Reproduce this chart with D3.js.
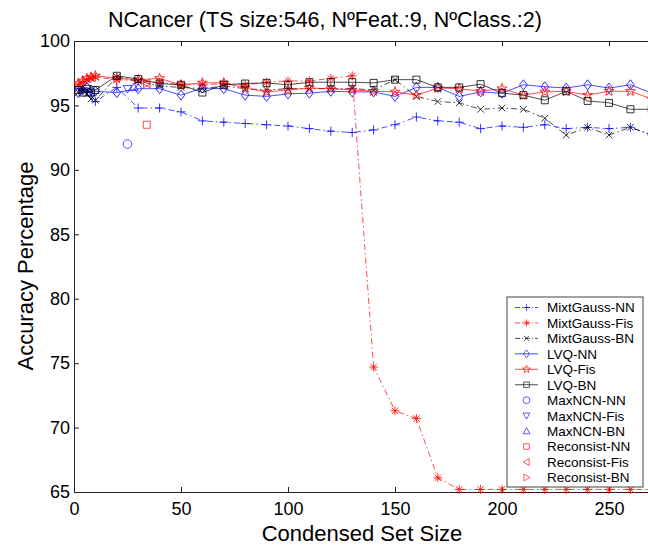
<!DOCTYPE html>
<html>
<head>
<meta charset="utf-8">
<script src="https://cdn.jsdelivr.net/npm/d3@7"></script>
<style>
    body { margin: 0; background: #fff; }
    text { font-family: Arial, "Liberation Sans", Helvetica, sans-serif; fill: #000; }
</style>
</head>
<body>
<div id="chart"></div>
<script>
// condensed set sizes (x) shared by the six curves
const setSizes = [2, 4, 6, 8, 10, 20, 30, 40, 50, 60, 70, 80, 90, 100, 110, 120, 130, 140, 150, 160, 170, 180, 190, 200, 210, 220, 230, 240, 250, 260, 270]

const mixtGaussNN  = [96.3, 96.2, 96.0, 95.8, 95.3, 96.4, 94.8, 94.8, 94.5, 93.8, 93.7, 93.6, 93.5, 93.4, 93.2, 93.0, 92.9, 93.1, 93.5, 94.1, 93.8, 93.7, 93.2, 93.4, 93.3, 93.5, 93.2, 93.3, 93.2, 93.3, 92.7]
const mixtGaussFis = [96.6, 96.8, 97.0, 97.1, 97.2, 97.0, 96.9, 96.8, 96.6, 96.6, 96.7, 96.6, 96.8, 96.9, 96.9, 97.1, 97.3, 74.7, 71.3, 70.7, 66.1, 65.2, 65.2, 65.2, 65.2, 65.2, 65.2, 65.2, 65.2, 65.2, 65.2]
const mixtGaussBN  = [96.0, 96.2, 95.9, 95.5, 95.4, 97.2, 96.9, 96.5, 96.4, 96.3, 96.5, 96.3, 96.2, 96.3, 96.3, 96.3, 96.3, 96.2, 97.0, 95.7, 95.3, 95.2, 94.7, 94.8, 94.7, 94.0, 92.7, 93.3, 92.7, 93.3, 92.7]
const lvqNN  = [96.0, 96.2, 96.4, 96.2, 96.1, 96.0, 96.3, 96.3, 95.8, 96.35, 96.3, 95.8, 95.7, 95.9, 95.95, 96.1, 96.05, 96.05, 95.7, 96.4, 96.4, 95.7, 96.05, 95.95, 96.6, 96.45, 96.35, 96.6, 96.35, 96.6, 95.95]
const lvqFis = [96.7, 96.9, 97.1, 97.2, 97.3, 97.1, 97.0, 97.1, 96.6, 96.75, 96.75, 96.35, 96.05, 96.2, 96.35, 96.3, 96.2, 96.1, 96.05, 95.8, 96.35, 96.3, 96.1, 96.3, 95.8, 96.05, 96.1, 95.8, 96.1, 96.1, 95.5]
const lvqBN  = [96.2, 96.0, 96.3, 96.0, 96.2, 97.3, 97.05, 96.7, 96.6, 96.0, 96.6, 96.7, 96.75, 96.6, 96.8, 96.8, 96.8, 96.75, 97.0, 97.0, 96.4, 96.4, 96.65, 95.95, 95.8, 95.4, 96.1, 95.35, 95.2, 94.7, 94.7]

// single-point methods: NN, Fis, BN
const maxNcnX = [25, 25, 28]
const maxNcnY = [92.0, 96.3, 96.4]
const reconsistX = [34, 34, 34]
const reconsistY = [93.5, 96.7, 96.7]

const legendNames = ["MixtGauss-NN", "MixtGauss-Fis", "MixtGauss-BN", "LVQ-NN", "LVQ-Fis", "LVQ-BN",
    "MaxNCN-NN", "MaxNCN-Fis", "MaxNCN-BN", "Reconsist-NN", "Reconsist-Fis", "Reconsist-BN"]
const xTicks = [0, 50, 100, 150, 200, 250]
const yTicks = [65, 70, 75, 80, 85, 90, 95, 100]

const W = 648, H = 546
const plot = { left: 74, top: 41, bottom: 492 }

// marker shapes, roughly like matlab ones
function marker(kind) {
    const s = 4.5
    switch (kind) {
        case "+": return `M${-s},0H${s}M0,${-s}V${s}`
        case "x": return `M-3.3,-3.3L3.3,3.3M-3.3,3.3L3.3,-3.3`
        case "*": return `M${-s},0H${s}M0,${-s}V${s}M-3.2,-3.2L3.2,3.2M-3.2,3.2L3.2,-3.2`
        case "d": return `M0,-5L3.8,0L0,5L-3.8,0Z`
        case "s": return `M-3.5,-3.5H3.5V3.5H-3.5Z`
        case "o": return `M4.3,0A4.3,4.3 0 1,1 -4.3,0A4.3,4.3 0 1,1 4.3,0Z`
        case "v": return `M-4.3,-3.3L4.3,-3.3L0,4.3Z`
        case "^": return `M-4.3,3.3L4.3,3.3L0,-4.3Z`
        case "<": return `M3.3,-4.3L3.3,4.3L-4.3,0Z`
        case ">": return `M-3.3,-4.3L-3.3,4.3L4.3,0Z`
        case "p": {
            let pts = []
            for (let i = 0; i < 10; i++) {
                let r = i % 2 == 0 ? 5.2 : 2.1
                let a = -Math.PI / 2 + i * Math.PI / 5
                pts.push([r * Math.cos(a), r * Math.sin(a)])
            }
            return "M" + pts.map(p => p[0].toFixed(2) + "," + p[1].toFixed(2)).join("L") + "Z"
        }
    }
}

const BLUE = "#0000ff", RED = "#ff0000", BLACK = "#000000"
const DASHDOT = "6,3,1.5,3"

// style per legend entry
const styles = [
    { color: BLUE,  mark: "+", dash: DASHDOT, line: true },
    { color: RED,   mark: "*", dash: DASHDOT, line: true },
    { color: BLACK, mark: "x", dash: DASHDOT, line: true },
    { color: BLUE,  mark: "d", dash: null, line: true },
    { color: RED,   mark: "p", dash: null, line: true },
    { color: BLACK, mark: "s", dash: null, line: true },
    { color: BLUE,  mark: "o", line: false },
    { color: BLUE,  mark: "v", line: false },
    { color: BLUE,  mark: "^", line: false },
    { color: RED,   mark: "s", line: false },
    { color: RED,   mark: "<", line: false },
    { color: RED,   mark: ">", line: false }
]

const curves = [mixtGaussNN, mixtGaussFis, mixtGaussBN, lvqNN, lvqFis, lvqBN].map((vals, i) => ({
    style: styles[i],
    points: vals.map((v, j) => ({ x: setSizes[j], y: v }))
}))
const singles = []
maxNcnX.forEach((x, i) => singles.push({ style: styles[6 + i], x: x, y: maxNcnY[i] }))
reconsistX.forEach((x, i) => singles.push({ style: styles[9 + i], x: x, y: reconsistY[i] }))

const x = d3.scaleLinear().domain([0, 280]).range([plot.left, plot.left + 280 * 2.14])
const y = d3.scaleLinear().domain([65, 100]).range([plot.bottom, plot.top])

const svg = d3.select("#chart").append("svg").attr("width", W).attr("height", H)

svg.append("defs").append("clipPath").attr("id", "clip")
    .append("rect").attr("x", plot.left).attr("y", plot.top - 6)
    .attr("width", x(280) - plot.left).attr("height", plot.bottom - plot.top + 12)

// axes with inward ticks, matlab style
const xAxis = svg.append("g").attr("transform", `translate(0,${plot.bottom})`)
    .call(d3.axisBottom(x).tickValues(xTicks).tickSizeInner(-5).tickSizeOuter(0).tickPadding(10))
const xTop = svg.append("g").attr("transform", `translate(0,${plot.top})`)
    .call(d3.axisTop(x).tickValues(xTicks).tickSizeInner(-5).tickSizeOuter(0).tickFormat(""))
const yAxis = svg.append("g").attr("transform", `translate(${plot.left},0)`)
    .call(d3.axisLeft(y).tickValues(yTicks).tickSizeInner(-5).tickSizeOuter(0).tickPadding(4))

svg.selectAll(".domain").attr("stroke", "#222").attr("stroke-width", 1)
svg.selectAll(".tick line").attr("stroke", "#222")
xAxis.selectAll("text").attr("font-size", 18).attr("fill", "#000")
yAxis.selectAll("text").attr("font-size", 18).attr("fill", "#000")

// data
const gData = svg.append("g").attr("clip-path", "url(#clip)")
const line = d3.line().x(d => x(d.x)).y(d => y(d.y))

curves.forEach(c => {
    gData.append("path")
        .attr("d", line(c.points))
        .attr("fill", "none")
        .attr("stroke", c.style.color)
        .attr("stroke-opacity", 0.7)
        .attr("stroke-width", 1)
        .attr("stroke-dasharray", c.style.dash)
    gData.selectAll(null).data(c.points).join("path")
        .attr("d", marker(c.style.mark))
        .attr("transform", d => `translate(${x(d.x)},${y(d.y)})`)
        .attr("fill", "none")
        .attr("stroke", c.style.color)
        .attr("stroke-opacity", 0.8)
        .attr("stroke-width", 1)
})

singles.forEach(p => {
    gData.append("path")
        .attr("d", marker(p.style.mark))
        .attr("transform", `translate(${x(p.x)},${y(p.y)})`)
        .attr("fill", "none")
        .attr("stroke", p.style.color)
        .attr("stroke-opacity", 0.7)
        .attr("stroke-width", 1)
})

// legend
const lg = { x: 507, y: 297, w: 136, h: 190, row: 15.45, first: 307.5 }
const gLegend = svg.append("g")
gLegend.append("rect").attr("x", lg.x).attr("y", lg.y).attr("width", lg.w).attr("height", lg.h)
    .attr("fill", "#fff").attr("stroke", "#444").attr("stroke-width", 1)

legendNames.forEach((name, i) => {
    let st = styles[i]
    let cy = lg.first + i * lg.row
    if (st.line) {
        gLegend.append("line").attr("x1", 515).attr("x2", 538).attr("y1", cy).attr("y2", cy)
            .attr("stroke", st.color).attr("stroke-opacity", 0.7).attr("stroke-width", 1)
            .attr("stroke-dasharray", st.dash ? "5,2,1,2" : null)
    }
    gLegend.append("path").attr("d", marker(st.mark))
        .attr("transform", `translate(526.5,${cy}) scale(0.8)`)
        .attr("fill", "none").attr("stroke", st.color).attr("stroke-opacity", 0.8).attr("stroke-width", 1)
    gLegend.append("text").attr("x", 547).attr("y", cy).attr("dy", "0.36em")
        .attr("font-size", 13.5).text(name)
})

// labels
svg.append("text").attr("x", 325).attr("y", 27).attr("text-anchor", "middle")
    .attr("font-size", 21.5).text("NCancer (TS size:546, NºFeat.:9, NºClass.:2)")
svg.append("text").attr("x", 362).attr("y", 541).attr("text-anchor", "middle")
    .attr("font-size", 22).text("Condensed Set Size")
svg.append("text").attr("transform", "translate(33,266) rotate(-90)").attr("text-anchor", "middle")
    .attr("font-size", 22).text("Accuracy Percentage")
</script>
</body>
</html>
